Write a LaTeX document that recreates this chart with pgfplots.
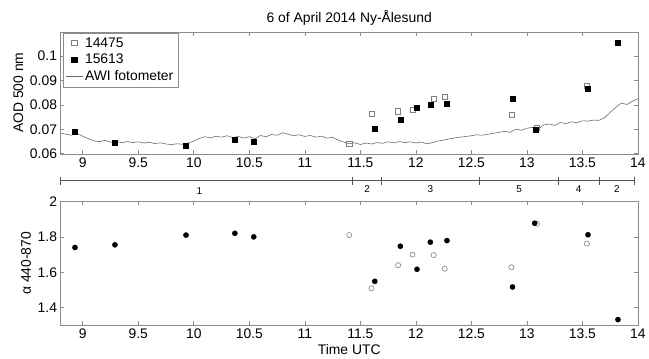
\documentclass[border=0pt]{standalone}
\usepackage{pgfplots}
\pgfplotsset{compat=1.18}
\usepackage{fontspec}
\setmainfont{Liberation Sans}
\definecolor{framegray}{rgb}{0.55,0.55,0.55}
\definecolor{linegray}{rgb}{0.42,0.42,0.42}
\definecolor{opengray}{rgb}{0.50,0.50,0.50}
\definecolor{bargray}{rgb}{0.33,0.33,0.33}
\pgfplotsset{
  mystyle/.style={
    scale only axis, width=582pt,
    xmin=8.8, xmax=14,
    axis line style={framegray},
    tick style={framegray, line width=0.6pt},
    major tick length=4pt,
    tick align=inside,
    xtick={9,9.5,10,10.5,11,11.5,12,12.5,13,13.5,14},
    xticklabels={9,9.5,10,10.5,11,11.5,12,12.5,13,13.5,14},
    /pgf/number format/assume math mode=true,
    tick label style={font=\fontsize{14}{16}\selectfont, black},
    label style={font=\fontsize{14}{16}\selectfont},
    clip=false,
  }
}
\begin{document}
\begin{tikzpicture}[x=1pt,y=1pt]
\path (0,0) rectangle (649,360);
% top axis
\begin{axis}[mystyle,
  at={(61pt,205pt)}, anchor=south west, height=123pt,
  ymin=0.06, ymax=0.11,
  ytick={0.06,0.07,0.08,0.09,0.1},
  yticklabels={0.06,0.07,0.08,0.09,0.1},
  ylabel={AOD 500 nm},
  xticklabel style={yshift=-1pt},
  title={6 of April 2014 Ny-Ålesund},
  title style={font=\fontsize{14}{16}\selectfont, yshift=-3pt},
  legend style={at={(0.004,0.99)}, anchor=north west, draw=framegray,
    font=\fontsize{14}{16}\selectfont, inner sep=2.5pt, row sep=1.5pt,
    cells={anchor=west}},
  legend cell align=left,
]
\addplot[only marks, mark=square, mark size=2.6pt, mark options={opengray, line width=0.6pt}] coordinates {
(11.40,0.0641) (11.60,0.0765) (11.84,0.0774) (11.97,0.0781) (12.16,0.0826)
(12.26,0.0834) (12.86,0.0759) (13.09,0.0707) (13.54,0.0880)
};
\addlegendentry{14475}
\addplot[only marks, mark=square*, mark size=2.6pt, mark options={black}] coordinates {
(8.93,0.0689) (9.29,0.0646) (9.93,0.0634) (10.37,0.0657) (10.54,0.0649)
(11.63,0.0702) (11.86,0.0740) (12.01,0.0790) (12.13,0.0800) (12.28,0.0804)
(12.87,0.0827) (13.08,0.0698) (13.55,0.0868) (13.82,0.1054)
};
\addlegendentry{15613}
\addplot[linegray, line width=0.6pt, mark=none] coordinates {
(8.80,0.0685) (8.85,0.0680) (8.90,0.0676) (8.95,0.0684) (9.00,0.0672)
(9.05,0.0662) (9.10,0.0653) (9.15,0.0650) (9.20,0.0655) (9.25,0.0648)
(9.30,0.0651) (9.35,0.0645) (9.40,0.0650) (9.45,0.0646) (9.50,0.0649)
(9.55,0.0644) (9.60,0.0647) (9.65,0.0642) (9.70,0.0645) (9.75,0.0640)
(9.80,0.0638) (9.85,0.0641) (9.90,0.0639) (9.95,0.0644) (10.00,0.0652)
(10.05,0.0663) (10.10,0.0670) (10.15,0.0665) (10.20,0.0672) (10.25,0.0668)
(10.30,0.0674) (10.35,0.0666) (10.40,0.0671) (10.45,0.0664) (10.50,0.0670)
(10.55,0.0662) (10.60,0.0675) (10.65,0.0670) (10.70,0.0679) (10.75,0.0676)
(10.80,0.0686) (10.85,0.0680) (10.90,0.0674) (10.95,0.0678) (11.00,0.0671)
(11.05,0.0675) (11.10,0.0668) (11.15,0.0672) (11.20,0.0664) (11.25,0.0667)
(11.30,0.0656) (11.35,0.0648) (11.40,0.0641) (11.45,0.0645) (11.50,0.0638)
(11.55,0.0644) (11.60,0.0640) (11.65,0.0646) (11.70,0.0643) (11.75,0.0649)
(11.80,0.0645) (11.85,0.0650) (11.90,0.0646) (11.95,0.0649) (12.00,0.0644)
(12.05,0.0648) (12.10,0.0641) (12.15,0.0646) (12.20,0.0652) (12.25,0.0656)
(12.30,0.0661) (12.35,0.0665) (12.40,0.0668) (12.45,0.0671) (12.50,0.0674)
(12.55,0.0678) (12.60,0.0676) (12.65,0.0680) (12.70,0.0684) (12.75,0.0688)
(12.80,0.0692) (12.85,0.0688) (12.90,0.0701) (12.95,0.0696) (13.00,0.0705)
(13.05,0.0708) (13.10,0.0700) (13.15,0.0718) (13.20,0.0722) (13.25,0.0716)
(13.30,0.0728) (13.35,0.0724) (13.40,0.0731) (13.45,0.0727) (13.50,0.0735)
(13.55,0.0734) (13.60,0.0738) (13.65,0.0737) (13.70,0.0748) (13.75,0.0770)
(13.80,0.0790) (13.85,0.0808) (13.90,0.0802) (13.95,0.0815) (14.00,0.0826)
};
\addlegendentry{AWI fotometer}
\end{axis}
% segment bar
\begin{axis}[scale only axis, width=582pt, height=10pt,
  at={(61pt,178pt)}, anchor=west,
  xmin=8.8, xmax=14, ymin=-1, ymax=1, hide axis, clip=false]
\addplot[bargray, line width=0.9pt, mark=|, mark size=4pt, mark options={bargray, line width=0.8pt}] coordinates {
(8.8,0) (11.43,0) (11.69,0) (12.57,0) (13.28,0) (13.65,0) (13.97,0)
};
\begin{scope}[every node/.style={font=\fontsize{10}{12}\selectfont, black}]
\node at (axis cs:10.05,0) [yshift=-11pt] {1};
\node at (axis cs:11.56,0) [yshift=-9pt] {2};
\node at (axis cs:12.13,0) [yshift=-9pt] {3};
\node at (axis cs:12.93,0) [yshift=-9pt] {5};
\node at (axis cs:13.465,0) [yshift=-9pt] {4};
\node at (axis cs:13.81,0) [yshift=-9pt] {2};
\end{scope}
\end{axis}
% bottom axis
\begin{axis}[mystyle,
  at={(61pt,32pt)}, anchor=south west, height=125pt,
  ymin=1.3, ymax=2,
  ytick={1.4,1.6,1.8,2},
  yticklabels={1.4,1.6,1.8,2},
  ylabel={α 440-870},
  xlabel={Time UTC},
  xlabel style={yshift=1pt},
]
\addplot[only marks, mark=o, mark size=2.6pt, mark options={opengray, line width=0.6pt}] coordinates {
(11.40,1.810) (11.60,1.510) (11.84,1.640) (11.97,1.700) (12.16,1.697)
(12.26,1.620) (12.86,1.628) (13.09,1.874) (13.54,1.762)
};
\addplot[only marks, mark=*, mark size=2.6pt, mark options={black}] coordinates {
(8.93,1.740) (9.29,1.755) (9.93,1.810) (10.37,1.820) (10.54,1.800)
(11.63,1.549) (11.86,1.747) (12.01,1.617) (12.13,1.770) (12.28,1.779)
(12.87,1.517) (13.07,1.877) (13.55,1.812) (13.82,1.333)
};
\end{axis}
\end{tikzpicture}
\end{document}
